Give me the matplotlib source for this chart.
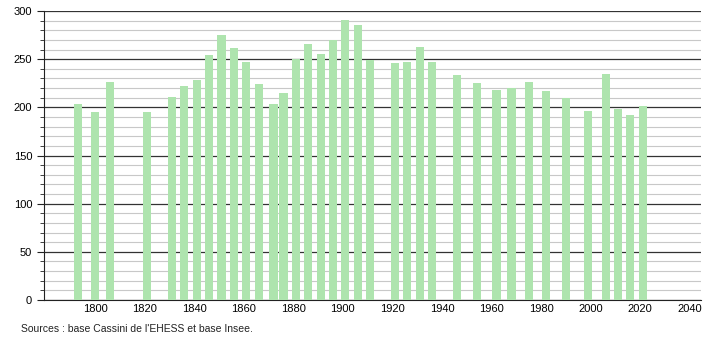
import numpy as np
import matplotlib.pyplot as plt
from matplotlib.ticker import MultipleLocator

years = [1793, 1800, 1806, 1821, 1831, 1836, 1841, 1846, 1851, 1856,
         1861, 1866, 1872, 1876, 1881, 1886, 1891, 1896, 1901, 1906,
         1911, 1921, 1926, 1931, 1936, 1946, 1954, 1962, 1968, 1975,
         1982, 1990, 1999, 2006, 2011, 2016, 2021]
population = [203, 195, 226, 195, 211, 222, 228, 254, 275, 262,
              247, 224, 203, 215, 250, 266, 255, 270, 291, 285,
              249, 246, 247, 263, 247, 234, 225, 218, 220, 226,
              217, 210, 196, 235, 198, 192, 201]
source = "Sources : base Cassini de l'EHESS et base Insee."

plt.rcParams['font.family'] = ['Liberation Sans', 'DejaVu Sans']
fig = plt.figure(figsize=(7.1, 3.4), dpi=100)
ax = fig.add_axes([0.062, 0.1176, 0.925, 0.85])

ax.bar(years, population, width=3.3, color='#aee4ae', zorder=3)

ax.set_xlim(1779.4, 2044.4)
ax.set_ylim(0, 300)
ax.set_xticks(np.arange(1800, 2041, 20))
ax.yaxis.set_major_locator(MultipleLocator(50))
ax.yaxis.set_minor_locator(MultipleLocator(10))
ax.grid(axis='y', which='minor', color='#c8c8c8', linewidth=0.8, zorder=1)
ax.grid(axis='y', which='major', color='#333333', linewidth=0.9, zorder=2)

for s in ['top', 'right']:
    ax.spines[s].set_visible(False)
ax.spines['left'].set_color('#222222')
ax.spines['bottom'].set_color('#222222')
ax.tick_params(axis='x', length=0, labelsize=8, pad=3)
ax.tick_params(axis='y', which='major', length=5, labelsize=8, color='#222222')
ax.tick_params(axis='y', which='minor', length=3, color='#222222')

fig.text(0.029, 0.032, source, fontsize=7.5, color='#222222', va='center')

fig.savefig('out.png', dpi=100)
